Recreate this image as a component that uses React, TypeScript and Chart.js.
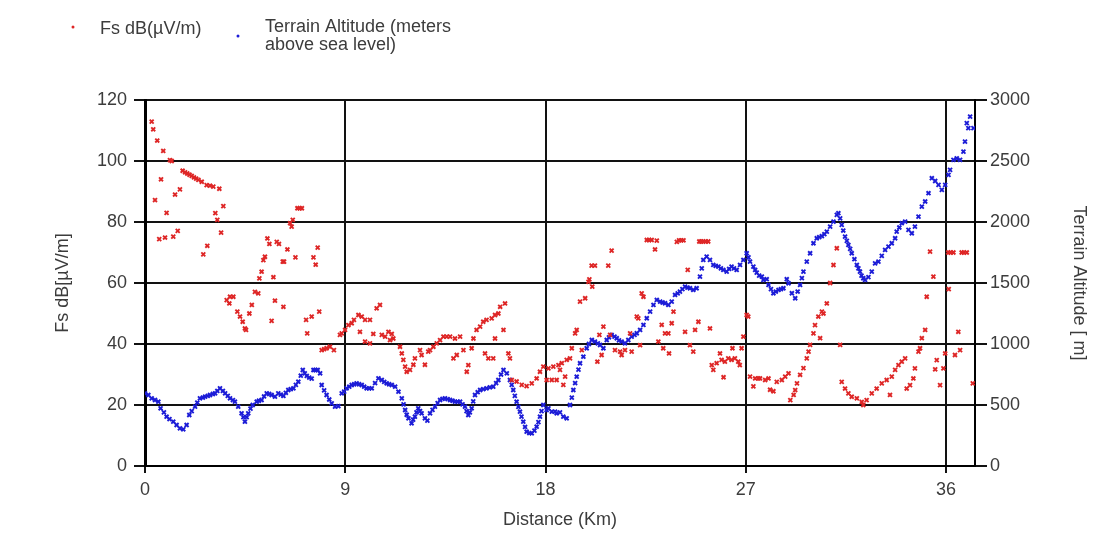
import React, { useEffect, useRef } from "react";
import { Chart, registerables } from "chart.js";

Chart.register(...registerables);

// ---- tick labels ----
const xTickValues = [0, 9, 18, 27, 36];

// ---- Fs dB(µV/m) series (red) ----
const fsDistance = [
  0.3, 0.37, 0.45, 0.55, 0.64, 0.72, 0.82, 0.9, 0.97, 1.12, 1.2, 1.27, 1.35, 1.47, 1.57, 1.69, 1.8, 1.9, 2.0, 2.1,
  2.2, 2.3, 2.4, 2.55, 2.62, 2.77, 2.8, 2.92, 3.07, 3.16, 3.25, 3.34, 3.42, 3.52, 3.67, 3.79, 3.82, 3.97, 4.15, 4.27,
  4.39, 4.49, 4.54, 4.69, 4.8, 4.94, 5.09, 5.14, 5.24, 5.32, 5.39, 5.5, 5.59, 5.69, 5.77, 5.84, 5.92, 6.02, 6.19, 6.22,
  6.25, 6.4, 6.52, 6.59, 6.64, 6.76, 6.85, 6.95, 7.05, 7.24, 7.29, 7.49, 7.57, 7.67, 7.76, 7.83, 7.94, 8.05, 8.16, 8.31,
  8.49, 8.76, 8.84, 8.99, 9.14, 9.29, 9.39, 9.59, 9.66, 9.74, 9.89, 9.89, 10.11, 10.11, 10.26, 10.41, 10.56, 10.64, 10.79, 10.94,
  11.01, 11.09, 11.16, 11.46, 11.54, 11.61, 11.69, 11.76, 11.91, 12.06, 12.13, 12.36, 12.43, 12.58, 12.73, 12.81, 12.96, 13.11, 13.26, 13.41,
  13.56, 13.71, 13.86, 13.93, 14.01, 14.16, 14.31, 14.46, 14.53, 14.68, 14.76, 14.9, 15.06, 15.2, 15.28, 15.35, 15.43, 15.58, 15.65, 15.73,
  15.73, 15.88, 15.96, 16.11, 16.18, 16.33, 16.4, 16.48, 16.7, 16.93, 17.15, 17.38, 17.6, 17.75, 17.9, 18.05, 18.13, 18.28, 18.35, 18.5,
  18.58, 18.65, 18.73, 18.8, 18.88, 18.95, 19.1, 19.18, 19.33, 19.4, 19.55, 19.63, 19.78, 19.93, 19.97, 20.07, 20.1, 20.22, 20.33, 20.42,
  20.52, 20.6, 20.82, 20.9, 20.97, 21.12, 21.35, 21.42, 21.57, 21.8, 21.87, 22.1, 22.17, 22.25, 22.32, 22.4, 22.55, 22.65, 22.77, 22.92,
  23.0, 23.07, 23.22, 23.29, 23.37, 23.52, 23.55, 23.67, 23.75, 23.9, 24.0, 24.1, 24.2, 24.27, 24.39, 24.49, 24.64, 24.72, 24.87, 24.91,
  25.0, 25.09, 25.2, 25.31, 25.39, 25.47, 25.54, 25.69, 25.84, 25.91, 26.0, 26.06, 26.21, 26.36, 26.4, 26.51, 26.66, 26.73, 26.81, 26.89,
  27.04, 27.11, 27.19, 27.34, 27.42, 27.57, 27.64, 27.87, 28.02, 28.09, 28.24, 28.39, 28.62, 28.77, 28.92, 29.0, 29.15, 29.22, 29.3, 29.44,
  29.59, 29.74, 29.82, 29.89, 30.04, 30.11, 30.26, 30.34, 30.42, 30.49, 30.64, 30.79, 30.94, 31.09, 31.24, 31.31, 31.46, 31.61, 31.76, 31.99,
  32.21, 32.28, 32.43, 32.66, 32.88, 33.11, 33.33, 33.48, 33.56, 33.71, 33.86, 34.01, 34.16, 34.23, 34.38, 34.53, 34.6, 34.76, 34.83, 34.91,
  35.06, 35.13, 35.28, 35.43, 35.51, 35.58, 35.73, 35.88, 35.96, 36.1, 36.12, 36.2, 36.33, 36.4, 36.55, 36.63, 36.7, 36.8, 36.93, 37.2,
];
const fsValues = [
  112.9, 110.4, 87.2, 106.7, 74.4, 94, 103.3, 74.9, 83, 100.3, 100, 75.2, 89, 77.1, 90.7, 96.8, 96.3, 95.9, 95.5, 95.1,
  94.6, 94.2, 93.8, 93.2, 69.4, 92.1, 72.2, 91.9, 91.6, 82.9, 80.7, 90.9, 76.5, 85.2, 54.4, 53.3, 55.5, 55.5, 50.6, 49,
  47.3, 45.1, 44.6, 50, 52.8, 57.1, 56.6, 61.5, 63.7, 67.5, 68.6, 74.6, 72.8, 47.6, 61.9, 54.2, 73.5, 72.8, 67, 52.2,
  67, 71, 79.6, 78.5, 80.7, 68.4, 84.5, 84.5, 84.5, 47.9, 43.5, 49, 68.4, 66, 71.6, 50.6, 38, 38.3, 38.6, 39.1,
  38, 43, 43.5, 44.6, 46.2, 46.8, 47.9, 49.5, 44, 49, 47.9, 40.8, 47.9, 40.2, 43.3, 51.7, 52.8, 43, 42.4, 44,
  41.3, 43.3, 41.8, 39.1, 36.9, 34.8, 32.6, 30.9, 31.5, 33.2, 35.3, 38, 36.4, 33.2, 37.5, 38, 39.1, 40.2, 41.3, 42.4,
  42.4, 42.4, 35.3, 41.8, 36.4, 42.4, 38, 30.9, 33.1, 38.6, 41.8, 44.6, 45.7, 47.3, 36.9, 47.9, 35.3, 48.4, 35.3, 49.5,
  41.8, 50, 52.2, 44.6, 53.3, 36.9, 35.3, 28.2, 27.7, 26.6, 26.2, 27.1, 28.7, 30.9, 32.6, 28.2, 32, 28.2, 32.6, 28.2,
  33.1, 31.5, 33.7, 26.6, 29.3, 34.8, 35.3, 38.6, 43.5, 44.6, 53.9, 38, 55, 60.4, 61.2, 65.7, 58.8, 65.7, 34.2, 43,
  36.4, 45.7, 65.7, 43, 70.6, 38, 37.5, 36.4, 38, 43.5, 37.5, 49, 48.4, 39.6, 56.6, 55.5, 74.1, 74.1, 74.1, 71,
  73.9, 40.8, 46.3, 38.6, 43.5, 43.5, 36.9, 46.8, 50.6, 73.5, 74, 74, 74, 44, 64.3, 39.6, 37.5, 44.6, 47.3, 73.6,
  73.6, 73.6, 73.6, 73.6, 45.1, 33.1, 31.5, 33.7, 36.9, 34.8, 29.1, 34.2, 35.3, 34.8, 38.6, 35.3, 34.2, 33.1, 38.6, 42.4,
  49.5, 49, 29.3, 26.1, 28.7, 28.7, 28.7, 28.2, 28.7, 25, 24.5, 27.6, 28.2, 29.3, 30.4, 21.6, 23.3, 24.9, 27.1, 29.9,
  32.1, 35.3, 37.5, 39.7, 43.5, 46.2, 49, 41.9, 50.6, 50, 53.3, 60, 65.9, 71.4, 39.7, 27.6, 25.4, 23.8, 22.7, 22.2,
  21, 20, 21.6, 23.8, 25.4, 27.1, 28.2, 23.3, 29.3, 31.5, 33.1, 34.2, 35.3, 25.4, 26.5, 28.7, 32, 37.5, 38.6, 41.9,
  44.6, 55.5, 70.3, 62.1, 31.7, 34.7, 26.5, 32, 36.9, 70, 58, 70, 70, 36.4, 44, 38, 70, 70, 70, 27.1,
];

// ---- Terrain altitude series (blue) ----
const altDistance = [
  0, 0.15, 0.3, 0.45, 0.6, 0.7, 0.85, 0.97, 1.1, 1.27, 1.42, 1.57, 1.72, 1.87, 1.99, 2.1, 2.25, 2.35, 2.47, 2.6,
  2.7, 2.82, 2.92, 3.05, 3.15, 3.25, 3.37, 3.5, 3.6, 3.72, 3.82, 3.95, 4.04, 4.19, 4.34, 4.42, 4.49, 4.57, 4.64, 4.74,
  4.84, 5.02, 5.12, 5.24, 5.35, 5.47, 5.58, 5.69, 5.84, 5.99, 6.1, 6.22, 6.33, 6.44, 6.55, 6.67, 6.78, 6.89, 7.0, 7.09,
  7.18, 7.27, 7.38, 7.49, 7.57, 7.66, 7.76, 7.87, 7.94, 8.05, 8.16, 8.28, 8.39, 8.54, 8.69, 8.84, 8.95, 9.06, 9.18, 9.29,
  9.4, 9.51, 9.62, 9.74, 9.85, 9.96, 10.07, 10.19, 10.34, 10.49, 10.64, 10.75, 10.86, 10.97, 11.09, 11.24, 11.39, 11.54, 11.62, 11.69,
  11.76, 11.84, 11.98, 12.05, 12.13, 12.2, 12.28, 12.36, 12.43, 12.58, 12.69, 12.81, 12.92, 13.03, 13.15, 13.26, 13.37, 13.48, 13.6, 13.71,
  13.82, 13.93, 14.05, 14.16, 14.27, 14.38, 14.45, 14.53, 14.6, 14.68, 14.75, 14.83, 14.95, 15.06, 15.2, 15.35, 15.5, 15.65, 15.78, 15.88,
  16.0, 16.11, 16.26, 16.4, 16.48, 16.55, 16.62, 16.7, 16.78, 16.85, 16.92, 17.0, 17.08, 17.15, 17.27, 17.38, 17.5, 17.6, 17.68, 17.75,
  17.82, 17.9, 18.05, 18.13, 18.28, 18.43, 18.5, 18.65, 18.8, 18.95, 19.1, 19.18, 19.25, 19.33, 19.4, 19.48, 19.55, 19.7, 19.85, 19.95,
  20.08, 20.22, 20.35, 20.45, 20.6, 20.75, 20.85, 20.97, 21.1, 21.2, 21.3, 21.42, 21.57, 21.72, 21.87, 22.0, 22.1, 22.25, 22.4, 22.55,
  22.7, 22.85, 23.0, 23.15, 23.26, 23.37, 23.52, 23.67, 23.82, 23.94, 24.04, 24.15, 24.27, 24.38, 24.49, 24.64, 24.79, 24.94, 25.02, 25.09,
  25.24, 25.39, 25.54, 25.65, 25.77, 25.88, 25.99, 26.14, 26.25, 26.36, 26.47, 26.59, 26.74, 26.89, 27.04, 27.12, 27.19, 27.34, 27.42, 27.49,
  27.6, 27.72, 27.79, 27.94, 28.02, 28.13, 28.24, 28.35, 28.47, 28.58, 28.69, 28.84, 28.92, 29.07, 29.22, 29.33, 29.44, 29.52, 29.59, 29.74,
  29.89, 30.04, 30.19, 30.3, 30.42, 30.53, 30.64, 30.79, 30.94, 31.09, 31.16, 31.24, 31.31, 31.38, 31.46, 31.54, 31.61, 31.69, 31.76, 31.88,
  31.99, 32.06, 32.13, 32.2, 32.28, 32.36, 32.51, 32.66, 32.81, 32.96, 33.11, 33.26, 33.41, 33.56, 33.71, 33.78, 33.9, 34.01, 34.16, 34.31,
  34.46, 34.6, 34.76, 34.91, 35.06, 35.21, 35.36, 35.51, 35.66, 35.81, 35.96, 36.11, 36.18, 36.33, 36.48, 36.63, 36.78, 36.85, 36.93, 37.0,
  37.08, 37.23,
];
const altValues = [
  596, 582, 555, 541, 527, 473, 440, 404, 385, 363, 336, 309, 301, 336, 418, 450, 486, 520, 555, 560,
  568, 575, 582, 590, 596, 615, 637, 615, 596, 575, 555, 540, 527, 486, 432, 400, 363, 400, 432, 470,
  500, 527, 535, 541, 570, 596, 590, 582, 568, 596, 585, 574, 600, 623, 630, 637, 665, 691, 740, 787,
  760, 738, 725, 716, 787, 787, 787, 760, 664, 620, 582, 545, 514, 486, 490, 596, 610, 637, 650, 664,
  670, 678, 670, 664, 650, 637, 637, 637, 680, 719, 705, 690, 678, 670, 664, 650, 609, 555, 505, 459,
  420, 391, 350, 380, 404, 440, 473, 450, 432, 391, 372, 432, 460, 486, 515, 541, 550, 555, 548, 541,
  535, 527, 527, 527, 505, 486, 450, 418, 440, 473, 530, 582, 605, 623, 630, 637, 645, 650, 680, 705,
  750, 787, 760, 705, 665, 623, 575, 527, 485, 445, 405, 363, 320, 281, 270, 268, 290, 322, 360, 404,
  450, 500, 459, 473, 445, 445, 432, 440, 404, 391, 500, 560, 623, 680, 732, 790, 842, 896, 965, 1000,
  1033, 1019, 1005, 992, 965, 1033, 1055, 1074, 1060, 1047, 1030, 1019, 1006, 1033, 1060, 1075, 1088, 1115, 1156, 1211,
  1265, 1320, 1361, 1347, 1340, 1334, 1320, 1347, 1402, 1415, 1429, 1450, 1470, 1462, 1457, 1443, 1457, 1552, 1620, 1689,
  1716, 1689, 1648, 1640, 1634, 1620, 1607, 1593, 1615, 1634, 1620, 1607, 1648, 1689, 1744, 1710, 1675, 1634, 1607, 1585,
  1560, 1552, 1525, 1531, 1484, 1450, 1416, 1430, 1443, 1450, 1457, 1531, 1498, 1416, 1375, 1430, 1484, 1540, 1593, 1675,
  1744, 1826, 1867, 1876, 1885, 1900, 1921, 1962, 2003, 2058, 2072, 2030, 1976, 1930, 1880, 1845, 1812, 1780, 1744, 1695,
  1648, 1620, 1593, 1560, 1539, 1525, 1548, 1593, 1661, 1675, 1722, 1771, 1798, 1826, 1867, 1921, 1955, 1990, 2003, 1935,
  1908, 1962, 2044, 2126, 2168, 2236, 2359, 2336, 2304, 2263, 2304, 2386, 2427, 2509, 2522, 2509, 2577, 2659, 2810, 2769,
  2864, 2769,
];

const FONT = "'Liberation Sans', Arial, sans-serif";
const FSIZE = 18;
const TEXT = "#3c3c3c";
const RED = "rgb(222,38,38)";
const BLUE = "rgb(28,28,215)";

export default function App() {
  const ref = useRef<HTMLCanvasElement>(null);

  useEffect(() => {
    const legendPlugin = {
      id: "customLegend",
      afterDraw(chart: any) {
        const ctx = chart.ctx as CanvasRenderingContext2D;
        ctx.save();
        ctx.fillStyle = RED;
        ctx.beginPath();
        ctx.arc(65, 19, 1.5, 0, Math.PI * 2);
        ctx.fill();
        ctx.fillStyle = BLUE;
        ctx.beginPath();
        ctx.arc(230, 28, 1.5, 0, Math.PI * 2);
        ctx.fill();
        ctx.fillStyle = TEXT;
        ctx.font = `${FSIZE}px ${FONT}`;
        ctx.textBaseline = "middle";
        ctx.textAlign = "left";
        ctx.fillText("Fs dB(µV/m)", 92, 21);
        ctx.fillText("Terrain Altitude (meters", 257, 19.5);
        ctx.fillText("above sea level)", 257, 37);
        ctx.restore();
      },
    };

    const gridColor = "#121212";
    const tickFont = { family: FONT, size: FSIZE };
    const chart = new Chart(ref.current as HTMLCanvasElement, {
      type: "scatter",
      data: {
        datasets: [
          {
            label: "Fs dB(µV/m)",
            data: fsDistance.map((x, i) => ({ x, y: fsValues[i] })),
            yAxisID: "y",
            pointStyle: "crossRot",
            pointRadius: 2.8,
            pointBorderWidth: 1.9,
            borderColor: RED,
            backgroundColor: RED,
          },
          {
            label: "Terrain Altitude (meters above sea level)",
            data: altDistance.map((x, i) => ({ x, y: altValues[i] })),
            yAxisID: "y2",
            pointStyle: "crossRot",
            pointRadius: 2.8,
            pointBorderWidth: 1.9,
            borderColor: BLUE,
            backgroundColor: BLUE,
          },
        ],
      },
      options: {
        responsive: false,
        animation: false,
        layout: { padding: { top: 92, left: 0, right: 0, bottom: 0 } },
        plugins: { legend: { display: false }, tooltip: { enabled: false } },
        scales: {
          x: {
            type: "linear",
            min: 0,
            max: 37.3,
            afterBuildTicks: (s: any) => {
              s.ticks = xTickValues.map((v) => ({ value: v }));
            },
            afterFit: (s: any) => {
              s.height = 82;
            },
            grid: { color: gridColor, lineWidth: 2, tickLength: 7, tickColor: gridColor },
            border: { display: true, color: "#000", width: 2 },
            ticks: { color: TEXT, font: tickFont, padding: 6, maxRotation: 0 },
            title: {
              display: true,
              text: "Distance (Km)",
              color: TEXT,
              font: tickFont,
              padding: { top: 17, bottom: 17 },
            },
          },
          y: {
            position: "left",
            min: 0,
            max: 120,
            ticks: { stepSize: 20, color: TEXT, font: tickFont, padding: 7 },
            afterFit: (s: any) => {
              s.width = 137;
            },
            grid: { color: gridColor, lineWidth: 2, tickLength: 11, tickColor: gridColor },
            border: { display: true, color: "#000", width: 3 },
            title: {
              display: true,
              text: "Fs dB[µV/m]",
              color: TEXT,
              font: tickFont,
              padding: { top: 44, bottom: 0 },
            },
          },
          y2: {
            position: "right",
            min: 0,
            max: 3000,
            ticks: {
              stepSize: 500,
              color: TEXT,
              font: tickFont,
              padding: 3,
              callback: (v: any) => String(v),
            },
            afterFit: (s: any) => {
              s.width = 122;
            },
            grid: { drawOnChartArea: false, color: gridColor, lineWidth: 2, tickLength: 12, tickColor: gridColor },
            border: { display: true, color: "#000", width: 2 },
            title: {
              display: true,
              text: "Terrain Altitude [ m]",
              color: TEXT,
              font: tickFont,
              padding: { top: 7, bottom: 0 },
            },
          },
        },
      },
      plugins: [legendPlugin],
    } as any);
    return () => chart.destroy();
  }, []);

  return (
    <div style={{ width: 1089, height: 540 }}>
      <canvas ref={ref} width={1089} height={540} style={{ display: "block" }} />
    </div>
  );
}
